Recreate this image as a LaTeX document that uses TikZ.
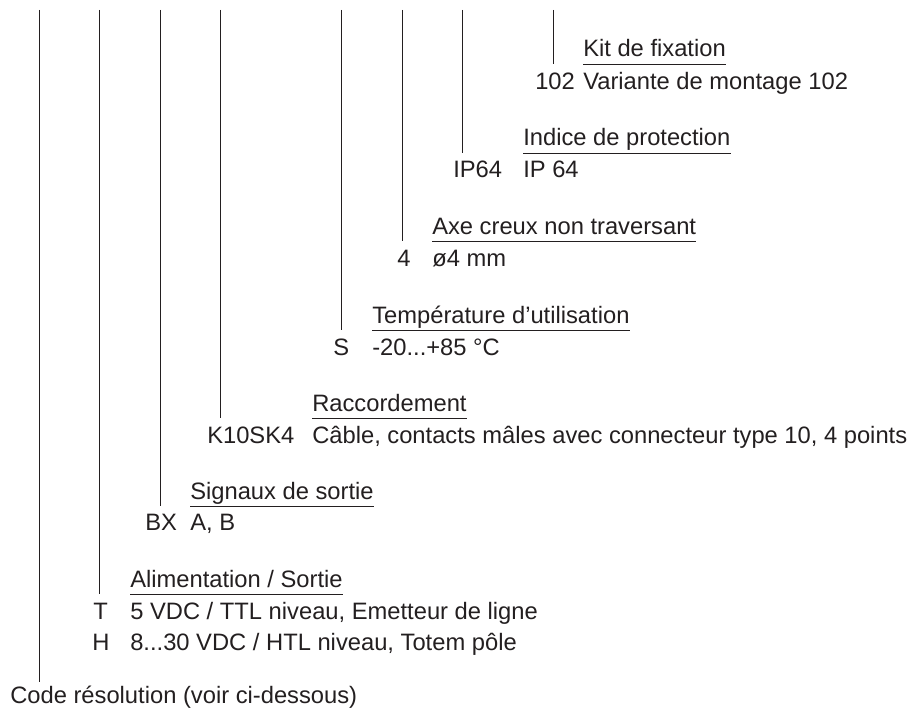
\documentclass[tikz,border=0pt]{standalone}
\usepackage{fontspec}
\setmainfont{Liberation Sans}

\definecolor{txtgray}{HTML}{231F20}

\tikzset{
    lbl/.style={inner sep=0pt, anchor=base west, text=txtgray},
    titel/.style={lbl, text depth=5.25pt},
    uline/.style={draw=txtgray, line width=0.6pt},
    stem/.style={draw=txtgray, line width=0.75pt}
}

\begin{document}
\begin{tikzpicture}[x=0.75pt, y=-0.75pt, font=\fontsize{17.8}{21}\selectfont]
    \useasboundingbox (0,0) rectangle (914,713);

    % Kit de fixation
    \node[titel] (t1) at (583,57) {Kit de fixation};
    \node[lbl] (c1) at (535,90) {102};
    \node[lbl] (v1) at (583,90) {Variante de montage 102};
    % Indice de protection
    \node[titel] (t2) at (523,146) {Indice de protection};
    \node[lbl] (c2) at (453,178) {IP64};
    \node[lbl] (v2) at (523,178) {IP 64};
    % Axe
    \node[titel] (t3) at (432,234) {Axe creux non traversant};
    \node[lbl] (c3) at (397,267) {4};
    \node[lbl] (v3) at (432,267) {ø4 mm};
    % Temperature
    \node[titel] (t4) at (372,323) {Température d’utilisation};
    \node[lbl] (c4) at (333,355) {S};
    \node[lbl] (v4) at (372,355) {-20...+85 °C};
    % Raccordement
    \node[titel] (t5) at (312,411) {Raccordement};
    \node[lbl] (c5) at (207,443) {K10SK4};
    \node[lbl] (v5) at (312,443) {Câble, contacts mâles avec connecteur type 10, 4 points};
    % Signaux
    \node[titel] (t6) at (190,499) {Signaux de sortie};
    \node[lbl] (c6) at (145,530) {BX};
    \node[lbl] (v6) at (190,530) {A, B};
    % Alimentation
    \node[titel] (t7) at (130,587) {Alimentation / Sortie};
    \node[lbl] (c7) at (93,619) {T};
    \node[lbl] (v7) at (130,619) {5 VDC / TTL niveau, Emetteur de ligne};
    \node[lbl] (c8) at (92,650) {H};
    \node[lbl] (v8) at (130,650) {8...30 VDC / HTL niveau, Totem pôle};
    % Code
    \node[lbl, text height=15.5pt] (res) at (10,703) {Code résolution (voir ci-dessous)};

    % underlines
    \draw[uline] (t1.south west) -- (t1.south east);
    \draw[uline] (t2.south west) -- (t2.south east);
    \draw[uline] (t3.south west) -- (t3.south east);
    \draw[uline] (t4.south west) -- (t4.south east);
    \draw[uline] (t5.south west) -- (t5.south east);
    \draw[uline] (t6.south west) -- (t6.south east);
    \draw[uline] (t7.south west) -- (t7.south east);

    % stems
    \coordinate (s0) at (39,10);
    \coordinate (s7) at (99,10);
    \coordinate (s6) at (160,10);
    \coordinate (s5) at (220,10);
    \coordinate (s4) at (341,10);
    \coordinate (s3) at (402,10);
    \coordinate (s2) at (462,10);
    \coordinate (s1) at (553,10);
    \draw[stem] (s1) -- (s1 |- t1.south);
    \draw[stem] (s2) -- (s2 |- t2.south);
    \draw[stem] (s3) -- (s3 |- t3.south);
    \draw[stem] (s4) -- (s4 |- t4.south);
    \draw[stem] (s5) -- (s5 |- t5.south);
    \draw[stem] (s6) -- (s6 |- t6.south);
    \draw[stem] (s7) -- (s7 |- t7.south);
    \draw[stem] (s0) -- (s0 |- res.north);
\end{tikzpicture}
\end{document}
